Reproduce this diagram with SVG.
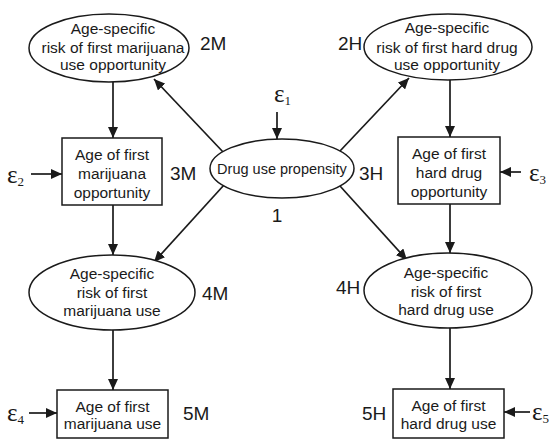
<svg xmlns="http://www.w3.org/2000/svg" width="554" height="439" viewBox="0 0 554 439">
<defs>
<marker id="ah" markerUnits="userSpaceOnUse" markerWidth="11" markerHeight="10" refX="11" refY="5" orient="auto">
<path d="M0,0 L11,5 L0,10 z" fill="#1a1a1a"/>
</marker>
<style>
.shape{fill:#fff;stroke:#1a1a1a;stroke-width:1.5}
.t{font-family:"Liberation Sans",Arial,sans-serif;font-size:15.5px;fill:#1a1a1a;text-anchor:middle}
.tp{font-family:"Liberation Sans",Arial,sans-serif;font-size:14.5px;fill:#1a1a1a;text-anchor:middle}
.lbl{font-family:"Liberation Sans",Arial,sans-serif;font-size:19px;fill:#1a1a1a}
.eps{font-family:"Liberation Serif","Times New Roman",serif;font-size:25px;fill:#1a1a1a}
.sub{font-size:13px}
.c{stroke:#1a1a1a;stroke-width:1.7;fill:none;marker-end:url(#ah)}
</style>
</defs>
<g id="connectors">
<line class="c" x1="224" y1="153" x2="154" y2="79"/>
<line class="c" x1="340" y1="151" x2="409" y2="78"/>
<line class="c" x1="224" y1="185" x2="154" y2="262"/>
<line class="c" x1="340" y1="186" x2="407" y2="260"/>
<line class="c" x1="113" y1="82" x2="113" y2="138"/>
<line class="c" x1="113" y1="205" x2="113" y2="255"/>
<line class="c" x1="113" y1="330" x2="113" y2="390"/>
<line class="c" x1="450" y1="80" x2="450" y2="137"/>
<line class="c" x1="450" y1="204" x2="450" y2="253"/>
<line class="c" x1="450" y1="328" x2="450" y2="389"/>
<line class="c" x1="277" y1="112" x2="277" y2="139"/>
<line class="c" x1="31" y1="174" x2="62" y2="174"/>
<line class="c" x1="521" y1="172" x2="500" y2="172"/>
<line class="c" x1="29" y1="413" x2="57" y2="413"/>
<line class="c" x1="530" y1="412" x2="504" y2="412"/>
</g>
<g id="n1">
<ellipse class="shape" cx="282" cy="168.5" rx="72" ry="29.5"/>
<text class="tp" x="282" y="174">Drug use propensity</text>
<text class="lbl" x="277" y="222" text-anchor="middle">1</text>
</g>
<g id="n2M">
<ellipse class="shape" cx="109" cy="48" rx="80" ry="34"/>
<text class="t" x="113" y="34">Age-specific</text>
<text class="t" x="113" y="52.5">risk of first marijuana</text>
<text class="t" x="113" y="70">use opportunity</text>
<text class="lbl" x="200" y="50">2M</text>
</g>
<g id="n3M">
<rect class="shape" x="62" y="138" width="100" height="67"/>
<text class="t" x="112" y="159.5">Age of first</text>
<text class="t" x="112" y="178.5">marijuana</text>
<text class="t" x="112" y="197.5">opportunity</text>
<text class="lbl" x="170" y="180">3M</text>
</g>
<g id="n4M">
<ellipse class="shape" cx="112" cy="292.5" rx="83" ry="37.5"/>
<text class="t" x="112" y="278.5">Age-specific</text>
<text class="t" x="112" y="297.5">risk of first</text>
<text class="t" x="112" y="315.5">marijuana use</text>
<text class="lbl" x="202" y="300">4M</text>
</g>
<g id="n5M">
<rect class="shape" x="57" y="390" width="111" height="48"/>
<text class="t" x="112.5" y="411.5">Age of first</text>
<text class="t" x="112.5" y="428.5">marijuana use</text>
<text class="lbl" x="183" y="420">5M</text>
</g>
<g id="n2H">
<ellipse class="shape" cx="448" cy="47" rx="84" ry="33"/>
<text class="t" x="447" y="33">Age-specific</text>
<text class="t" x="447" y="52.5">risk of first hard drug</text>
<text class="t" x="447" y="69.5">use opportunity</text>
<text class="lbl" x="338" y="50">2H</text>
</g>
<g id="n3H">
<rect class="shape" x="398" y="137" width="102" height="67"/>
<text class="t" x="449" y="158.5">Age of first</text>
<text class="t" x="449" y="177.5">hard drug</text>
<text class="t" x="449" y="196.5">opportunity</text>
<text class="lbl" x="359" y="180">3H</text>
</g>
<g id="n4H">
<ellipse class="shape" cx="448" cy="290.5" rx="84" ry="37.5"/>
<text class="t" x="446" y="277.5">Age-specific</text>
<text class="t" x="446" y="296.5">risk of first</text>
<text class="t" x="446" y="314.5">hard drug use</text>
<text class="lbl" x="336" y="294">4H</text>
</g>
<g id="n5H">
<rect class="shape" x="393" y="389" width="111" height="49"/>
<text class="t" x="448.5" y="410.5">Age of first</text>
<text class="t" x="448.5" y="428.5">hard drug use</text>
<text class="lbl" x="362" y="419.5">5H</text>
</g>
<g id="errors">
<text class="eps" x="274" y="102">ε<tspan class="sub" dy="3">1</tspan></text>
<text class="eps" x="7" y="183">ε<tspan class="sub" dy="3">2</tspan></text>
<text class="eps" x="529" y="181">ε<tspan class="sub" dy="3">3</tspan></text>
<text class="eps" x="7" y="421">ε<tspan class="sub" dy="3">4</tspan></text>
<text class="eps" x="532" y="420">ε<tspan class="sub" dy="3">5</tspan></text>
</g>
</svg>
